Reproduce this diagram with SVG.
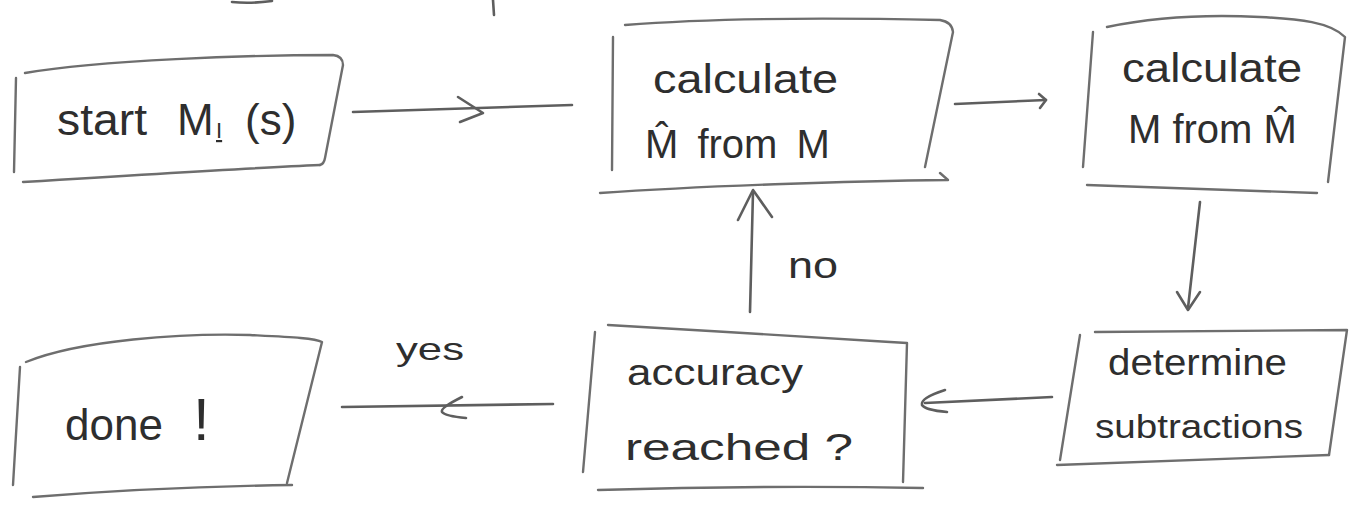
<svg xmlns="http://www.w3.org/2000/svg" width="1366" height="506" viewBox="0 0 1366 506">
  <style>
    .ln { fill: none; stroke: #6e6e6e; stroke-width: 2.4; stroke-linecap: round; stroke-linejoin: round; }
    .ar { fill: none; stroke: #5e5e5e; stroke-width: 2.6; stroke-linecap: round; stroke-linejoin: round; }
    .t { font-family: "Liberation Sans", Arial, sans-serif; fill: #2e2e2e; }
  </style>
  <rect x="0" y="0" width="1366" height="506" fill="#ffffff"/>

  <g id="stray-marks">
    <path class="ar" d="M 232 2 Q 250 4 272 1"/>
    <path class="ar" d="M 493 0 L 494 15" stroke="#333"/>
  </g>

  <g id="node-start">
    <path class="ln" d="M 16 78 L 14 172"/>
    <path class="ln" d="M 25 73 C 100 60, 250 55, 333 55 Q 343 56, 343 65 L 325 158 Q 324 164, 320 165"/>
    <path class="ln" d="M 23 182 C 120 176, 250 168, 320 165"/>
    <text class="t" y="135" font-size="44"><tspan x="57" textLength="90" lengthAdjust="spacingAndGlyphs">start</tspan> <tspan x="177" font-size="44">M</tspan><tspan x="216" dy="3" font-size="22" text-decoration="underline">I</tspan><tspan x="245" dy="-3">(s)</tspan></text>
  </g>

  <g id="node-calc-mhat">
    <path class="ln" d="M 613 37 L 612 170"/>
    <path class="ln" d="M 625 25 C 700 19, 800 17, 940 20 Q 952 22, 953 32 L 925 167"/>
    <path class="ln" d="M 600 193 C 700 186, 850 181, 948 180 L 940 173"/>
    <text class="t" x="653" y="93" font-size="40" textLength="185" lengthAdjust="spacingAndGlyphs">calculate</text>
    <text class="t" x="645" y="158" font-size="40" word-spacing="8">M̂ from M</text>
  </g>

  <g id="node-calc-m">
    <path class="ln" d="M 1093 32 L 1083 167"/>
    <path class="ln" d="M 1107 27 C 1150 18, 1200 14, 1260 17 C 1300 19, 1330 22, 1345 37 L 1328 182"/>
    <path class="ln" d="M 1087 185 C 1170 188, 1250 191, 1317 193"/>
    <text class="t" x="1122" y="82" font-size="40" textLength="180" lengthAdjust="spacingAndGlyphs">calculate</text>
    <text class="t" x="1128" y="143" font-size="40">M from M̂</text>
  </g>

  <g id="node-determine">
    <path class="ln" d="M 1080 335 L 1060 460"/>
    <path class="ln" d="M 1095 332 L 1347 330 L 1329 455"/>
    <path class="ln" d="M 1057 465 L 1329 455"/>
    <text class="t" x="1108" y="375" font-size="36" textLength="179" lengthAdjust="spacingAndGlyphs">determine</text>
    <text class="t" x="1095" y="438" font-size="34" textLength="208" lengthAdjust="spacingAndGlyphs">subtractions</text>
  </g>

  <g id="node-accuracy">
    <path class="ln" d="M 595 332 L 583 472"/>
    <path class="ln" d="M 608 325 C 700 330, 820 338, 890 342 L 907 343 L 903 482"/>
    <path class="ln" d="M 598 490 C 700 487, 820 486, 923 488"/>
    <text class="t" x="627" y="385" font-size="36" textLength="176" lengthAdjust="spacingAndGlyphs">accuracy</text>
    <text class="t" x="625" y="460" font-size="36" textLength="228" lengthAdjust="spacingAndGlyphs">reached ?</text>
  </g>

  <g id="node-done">
    <path class="ln" d="M 20 367 L 13 485"/>
    <path class="ln" d="M 26 362 C 80 340, 183 333, 250 335 C 290 337, 315 338, 322 342 L 287 483"/>
    <path class="ln" d="M 33 497 C 120 490, 220 486, 292 485"/>
    <text class="t" x="65" y="440" font-size="44">done <tspan x="193" font-size="60">!</tspan></text>
  </g>

  <g id="connectors">
    <path class="ar" d="M 353 112 L 572 105"/>
    <path class="ar" d="M 458 97 L 483 113 L 460 122"/>

    <path class="ar" d="M 955 104 L 1046 100"/>
    <path class="ar" d="M 1039 94 L 1046 100 L 1040 108"/>

    <path class="ar" d="M 1200 202 L 1188 308"/>
    <path class="ar" d="M 1177 292 L 1188 310 L 1200 292"/>

    <path class="ar" d="M 1052 397 L 925 403"/>
    <path class="ar" d="M 945 390 Q 920 398 922 405 Q 925 410 947 412"/>

    <path class="ar" d="M 750 312 L 753 192"/>
    <path class="ar" d="M 738 220 L 753 190 L 772 217"/>

    <path class="ar" d="M 342 407 L 553 404"/>
    <path class="ar" d="M 462 397 Q 440 408 442 412 Q 445 416 466 418"/>

    <text class="t" x="788" y="278" font-size="36" textLength="50" lengthAdjust="spacingAndGlyphs">no</text>
    <text class="t" x="396" y="360" font-size="32" textLength="68" lengthAdjust="spacingAndGlyphs">yes</text>
  </g>
</svg>
